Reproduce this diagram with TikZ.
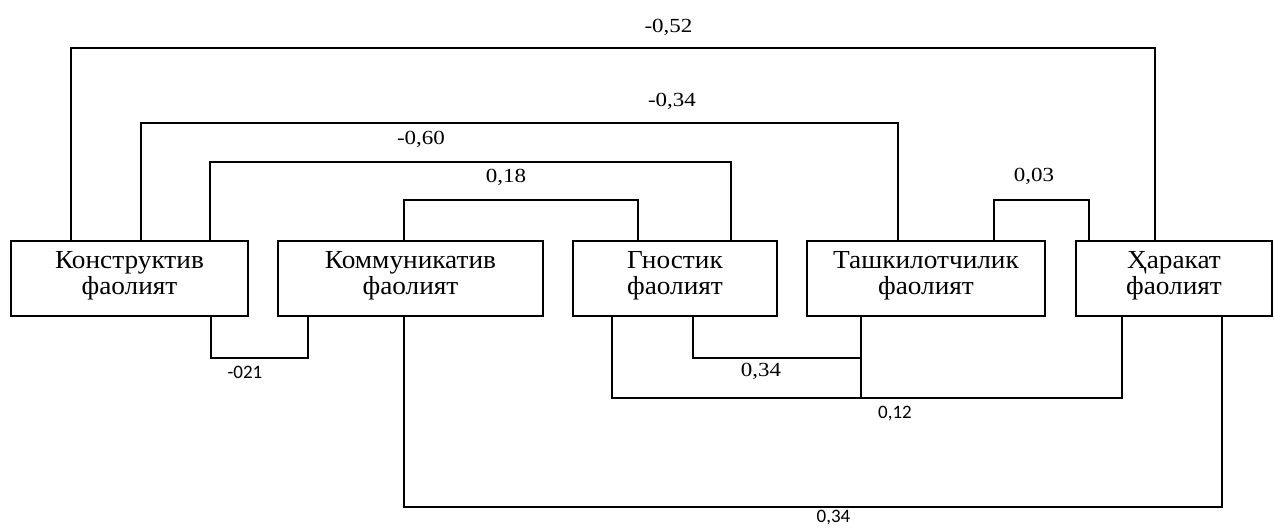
\documentclass[tikz,border=0pt]{standalone}
\usepackage{fontspec}
\newfontfamily\boxfont[FakeStretch=1.05]{Liberation Serif}
\newfontfamily\lblfont[FakeStretch=1.15]{Liberation Serif}
\newfontfamily\sflfont{Carlito}
\newcommand\mylowstrut{\rule[-12pt]{0pt}{0pt}}
\tikzset{
  box/.style={draw, line width=2pt, inner sep=0pt, minimum height=75pt, align=center,
    font=\boxfont\fontsize{26}{26}\selectfont},
  conn/.style={line width=2pt},
  lbl/.style={anchor=base, inner sep=0pt, font=\lblfont\fontsize{20}{23}\selectfont},
  slbl/.style={anchor=base, inner sep=0pt, font=\sflfont\fontsize{19}{22}\selectfont}
}
\begin{document}
\begin{tikzpicture}[x=1pt,y=-1pt]
\useasboundingbox[fill=white] (0,0) rectangle (1274,528);
% boxes
\node[box, minimum width=237pt] (k1) at (129.5,278.5) {Конструктив\\фаолият\mylowstrut};
\node[box, minimum width=265pt] (k2) at (410.5,278.5) {Коммуникатив\\фаолият\mylowstrut};
\node[box, minimum width=204pt] (k3) at (675,278.5) {Гностик\\фаолият\mylowstrut};
\node[box, minimum width=238pt] (k4) at (926,278.5) {Ташкилотчилик\\фаолият\mylowstrut};
\node[box, minimum width=196pt] (k5) at (1174,278.5) {Ҳаракат\\фаолият\mylowstrut};
% top connectors
\draw[conn] ([xshift=61pt]k1.north west) -- ++(0,-192) -| ([xshift=80pt]k5.north west);
\draw[conn] ([xshift=131pt]k1.north west) -- ++(0,-117) -| ([xshift=92pt]k4.north west);
\draw[conn] ([xshift=200pt]k1.north west) -- ++(0,-78) -| ([xshift=159pt]k3.north west);
\draw[conn] ([xshift=127pt]k2.north west) -- ++(0,-40) -| ([xshift=66pt]k3.north west);
\draw[conn] ([xshift=188pt]k4.north west) -- ++(0,-40) -| ([xshift=14pt]k5.north west);
% bottom connectors
\draw[conn] ([xshift=201pt]k1.south west) -- ++(0,41) -| ([xshift=31pt]k2.south west);
\coordinate (j) at ([xshift=55pt,yshift=-41pt]k4.south west);
\draw[conn] ([xshift=121pt]k3.south west) |- (j);
\draw[conn] ([xshift=55pt]k4.south west) -- ++(0,81);
\draw[conn] ([xshift=40pt]k3.south west) -- ++(0,81) -| ([xshift=47pt]k5.south west);
\draw[conn] ([xshift=127pt]k2.south west) -- ++(0,190) -| ([xshift=147pt]k5.south west);
% labels
\node[lbl] (l1) at (668.5,32.7) {-0,52};
\node[lbl] (l2) at (672,106) {-0,34};
\node[lbl] (l3) at (421,144) {-0,60};
\node[lbl] (l4) at (506,182) {0,18};
\node[lbl] (l5) at (1034,181.7) {0,03};
\node[lbl] (l6) at (761,376.7) {0,34};
\node[slbl] (l7) at (245,378.3) {-021};
\node[slbl] (l8) at (895,418.3) {0,12};
\node[slbl] (l9) at (833.5,522.5) {0,34};
\end{tikzpicture}
\end{document}
